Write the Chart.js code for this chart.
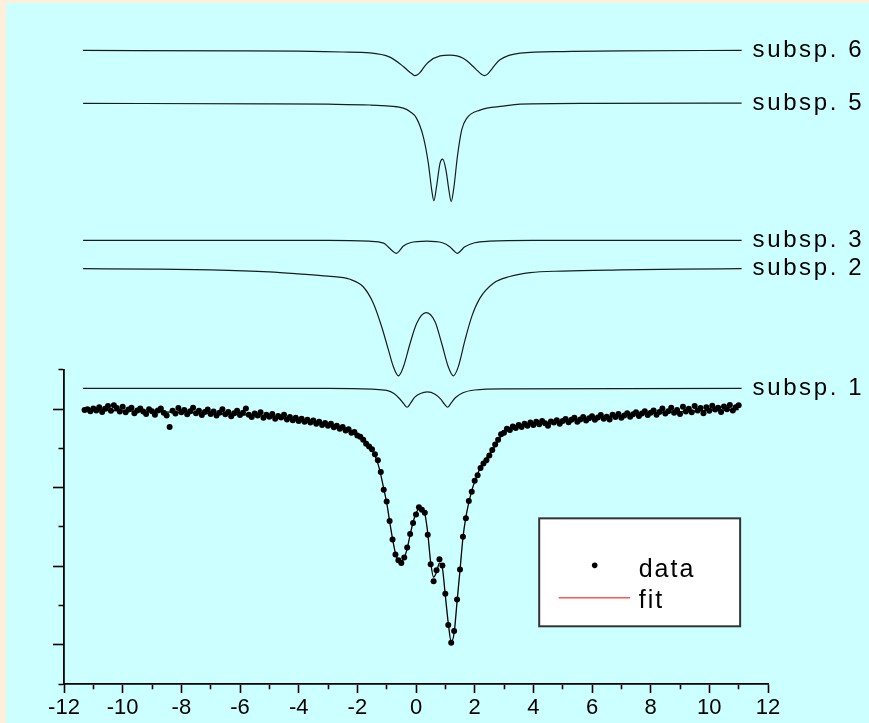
<!DOCTYPE html>
<html><head><meta charset="utf-8">
<script src="https://cdn.jsdelivr.net/npm/chart.js@4.4.1/dist/chart.umd.min.js"></script>
<style>html,body{margin:0;padding:0;background:#FDEFD9;overflow:hidden}canvas{display:block}</style>
</head><body>
<canvas id="c" width="869" height="723"></canvas>
<script>
// Measured spectrum (velocity mm/s, relative transmission %)
const dataVelocity = [
-11.3,-11.2,-11.1,-11.0,-10.9,-10.8,-10.7,-10.6,-10.5,-10.4,
-10.3,-10.2,-10.1,-10.0,-9.9,-9.8,-9.7,-9.6,-9.5,-9.4,
-9.3,-9.2,-9.1,-9.0,-8.9,-8.8,-8.7,-8.6,-8.5,-8.4,
-8.3,-8.2,-8.1,-8.0,-7.9,-7.8,-7.7,-7.6,-7.5,-7.4,
-7.3,-7.2,-7.1,-7.0,-6.9,-6.8,-6.7,-6.6,-6.5,-6.4,
-6.3,-6.2,-6.1,-6.0,-5.9,-5.8,-5.7,-5.6,-5.5,-5.4,
-5.3,-5.2,-5.1,-5.0,-4.9,-4.8,-4.7,-4.6,-4.5,-4.4,
-4.3,-4.2,-4.1,-4.0,-3.9,-3.8,-3.7,-3.6,-3.5,-3.4,
-3.3,-3.2,-3.1,-3.0,-2.9,-2.8,-2.7,-2.6,-2.5,-2.4,
-2.3,-2.2,-2.1,-2.0,-1.9,-1.8,-1.7,-1.6,-1.5,-1.4,
-1.3,-1.2,-1.1,-1.0,-0.9,-0.8,-0.7,-0.6,-0.5,-0.4,
-0.3,-0.2,-0.1,0.0,0.1,0.2,0.3,0.4,0.5,0.6,
0.7,0.8,0.9,1.0,1.1,1.2,1.3,1.4,1.5,1.6,
1.7,1.8,1.9,2.0,2.1,2.2,2.3,2.4,2.5,2.6,
2.7,2.8,2.9,3.0,3.1,3.2,3.3,3.4,3.5,3.6,
3.7,3.8,3.9,4.0,4.1,4.2,4.3,4.4,4.5,4.6,
4.7,4.8,4.9,5.0,5.1,5.2,5.3,5.4,5.5,5.6,
5.7,5.8,5.9,6.0,6.1,6.2,6.3,6.4,6.5,6.6,
6.7,6.8,6.9,7.0,7.1,7.2,7.3,7.4,7.5,7.6,
7.7,7.8,7.9,8.0,8.1,8.2,8.3,8.4,8.5,8.6,
8.7,8.8,8.9,9.0,9.1,9.2,9.3,9.4,9.5,9.6,
9.7,9.8,9.9,10.0,10.1,10.2,10.3,10.4,10.5,10.6,
10.7,10.8,10.9,11.0];
const dataTransmission = [
99.98,100.00,99.95,100.02,99.97,100.05,99.93,100.01,100.08,99.96,
100.10,100.03,99.94,100.06,99.92,99.99,100.04,99.90,99.97,100.02,
99.94,99.88,100.00,99.95,99.86,99.97,100.02,99.91,99.84,99.55,
99.96,99.89,100.03,99.92,99.98,99.87,99.95,100.04,99.90,99.96,
99.85,99.93,99.99,99.88,99.94,99.84,99.91,100.00,99.87,99.93,
99.82,99.90,99.96,99.85,99.91,100.02,99.86,99.80,99.89,99.84,
99.92,99.78,99.86,99.81,99.88,99.76,99.83,99.79,99.86,99.74,
99.80,99.72,99.78,99.70,99.76,99.68,99.73,99.66,99.71,99.63,
99.68,99.60,99.65,99.58,99.63,99.54,99.58,99.50,99.55,99.46,
99.49,99.40,99.42,99.33,99.30,99.22,99.12,99.05,98.98,98.85,
98.70,98.40,97.95,97.65,97.15,96.68,96.30,96.15,96.08,96.22,
96.48,96.82,97.10,97.32,97.50,97.44,97.36,96.80,96.05,95.62,
95.90,96.18,96.02,95.30,94.50,94.05,94.35,95.15,95.92,96.75,
97.22,97.66,97.90,98.18,98.32,98.50,98.62,98.70,98.82,98.96,
99.10,99.22,99.36,99.40,99.50,99.47,99.56,99.52,99.60,99.55,
99.63,99.58,99.66,99.60,99.68,99.62,99.70,99.64,99.58,99.69,
99.66,99.72,99.63,99.70,99.75,99.67,99.73,99.78,99.68,99.74,
99.80,99.71,99.77,99.82,99.73,99.79,99.85,99.76,99.81,99.74,
99.86,99.80,99.88,99.78,99.84,99.90,99.81,99.87,99.92,99.83,
99.89,99.95,99.85,99.91,99.97,99.86,99.93,100.02,99.89,99.95,
100.04,99.91,99.98,99.88,100.06,99.94,100.01,99.92,100.08,99.97,
100.03,99.90,100.05,99.96,100.09,99.99,100.04,99.93,100.07,100.00,
100.11,99.97,100.05,100.10];

// Fit curve
const fitVelocity = [-11.3,-10,-9,-8,-7,-6,-5,-4.5,-4,-3.5,-3,-2.5,-2.2,-2.0,-1.8,-1.6,-1.45,-1.3,-1.2,-1.1,
-1.0,-0.9,-0.8,-0.7,-0.6,-0.5,-0.4,-0.3,-0.2,-0.1,0.0,0.1,0.2,0.3,0.4,0.5,0.6,0.7,0.8,0.9,
1.0,1.1,1.2,1.3,1.4,1.5,1.6,1.7,1.8,1.9,2.0,2.2,2.4,2.6,2.8,3.0,3.3,3.6,4,5,6,7,8,9,10,11.0];
const fitTransmission = [99.98,99.96,99.94,99.92,99.89,99.86,99.81,99.77,99.73,99.68,99.62,99.53,99.45,99.38,99.27,99.08,98.9,98.62,98.33,97.98,
97.62,97.15,96.7,96.33,96.14,96.12,96.22,96.45,96.8,97.12,97.35,97.46,97.47,97.34,96.85,96.1,95.72,95.85,96.08,95.95,
95.25,94.55,94.08,94.3,95.1,95.9,96.72,97.25,97.62,97.92,98.15,98.52,98.76,98.95,99.2,99.42,99.53,99.58,99.62,99.70,99.77,99.84,99.90,99.94,99.97,99.99];

// Subspectra (drawn offset above the spectrum, same % units)
const subsp1Velocity = [-11.35,-3,-1.5,-1.0,-0.75,-0.55,-0.42,-0.30,-0.18,-0.05,0.15,0.39,0.65,0.85,0.97,1.08,1.2,1.35,1.6,2.0,3,11.1];
const subsp1Value = [100.53,100.53,100.51,100.48,100.40,100.26,100.14,100.05,100.16,100.30,100.40,100.44,100.38,100.25,100.13,100.05,100.16,100.30,100.42,100.49,100.52,100.53];
const subsp2Velocity = [-11.35,-9,-7,-5,-4,-3,-2.25,-1.8,-1.455,-1.17,-0.94,-0.77,-0.60,-0.43,-0.20,0.025,0.34,0.65,0.875,1.10,1.27,1.44,1.67,1.90,2.18,2.64,3.2,3.89,5,7,9,11.1];
const subsp2Value = [103.58,103.57,103.55,103.50,103.45,103.39,103.31,103.12,102.70,102.10,101.51,101.08,100.85,101.08,101.68,102.19,102.46,102.23,101.68,101.08,100.85,101.08,101.76,102.36,102.83,103.21,103.38,103.48,103.52,103.55,103.57,103.58];
const subsp3Velocity = [-11.35,-3,-1.6,-1.1,-0.9,-0.78,-0.68,-0.58,-0.44,-0.2,0.37,0.9,1.15,1.3,1.41,1.52,1.65,2.0,2.5,4,11.1];
const subsp3Value = [104.30,104.30,104.28,104.23,104.10,104.02,103.97,104.02,104.15,104.24,104.28,104.24,104.14,104.03,103.97,104.03,104.13,104.24,104.28,104.30,104.30];
const subsp5Velocity = [-11.35,-5,-3,-1.57,-0.89,-0.43,-0.2,0.02,0.25,0.42,0.535,0.61,0.70,0.82,0.91,1.02,1.12,1.20,1.295,1.41,1.56,1.73,2.18,2.98,3.55,6,11.1];
const subsp5Value = [107.79,107.78,107.77,107.75,107.72,107.67,107.58,107.41,106.94,106.27,105.59,105.31,105.67,106.27,106.37,106.10,105.59,105.29,105.67,106.43,107.12,107.41,107.62,107.72,107.77,107.79,107.80];
const subsp6Velocity = [-11.35,-6,-4,-2.5,-1.57,-0.89,-0.43,-0.28,-0.15,-0.05,0.05,0.14,0.28,0.42,0.82,1.16,1.61,1.95,2.1,2.22,2.33,2.43,2.55,2.7,2.86,3.55,5,7,11.1];
const subsp6Value = [109.14,109.13,109.12,109.10,109.08,108.97,108.73,108.63,108.55,108.50,108.52,108.58,108.72,108.84,109.00,109.02,108.94,108.73,108.62,108.54,108.50,108.53,108.63,108.78,108.90,109.07,109.11,109.13,109.14];
const subspLabels = ['subsp. 1','subsp. 2','subsp. 3','subsp. 5','subsp. 6'];

const xTickLabels = ['-12','-10','-8','-6','-4','-2','0','2','4','6','8','10','12'];
const legendLabels = ['data','fit'];

const FONT = '"Liberation Sans", Arial, Helvetica, sans-serif';
const pts = (vs, ts) => vs.map((v, i) => ({x: v, y: ts[i]}));
const subspSeries = [
  {label: subspLabels[0], v: subsp1Velocity, t: subsp1Value},
  {label: subspLabels[1], v: subsp2Velocity, t: subsp2Value},
  {label: subspLabels[2], v: subsp3Velocity, t: subsp3Value},
  {label: subspLabels[3], v: subsp5Velocity, t: subsp5Value},
  {label: subspLabels[4], v: subsp6Velocity, t: subsp6Value}
];

const bgPlugin = {
  id: 'bg',
  beforeDraw(chart) {
    const c = chart.ctx;
    c.save();
    c.fillStyle = '#FDEFD9';
    c.fillRect(0, 0, chart.width, chart.height);
    c.fillStyle = '#CCFFFF';
    c.fillRect(6, 3, chart.width - 6, chart.height - 3);
    c.restore();
  }
};

const subspLabelPlugin = {
  id: 'subspLabels',
  afterDatasetsDraw(chart) {
    const c = chart.ctx, xs = chart.scales.x, ys = chart.scales.yTop;
    c.save();
    c.font = '24px ' + FONT;
    c.fillStyle = '#000';
    try { c.letterSpacing = '2.6px'; } catch (e) {}
    c.textBaseline = 'alphabetic';
    c.textAlign = 'left';
    subspSeries.forEach(s => {
      const lv = s.v[s.v.length - 1], lt = s.t[s.t.length - 1];
      c.fillText(s.label, xs.getPixelForValue(lv) + 11, ys.getPixelForValue(lt) + 6.5);
    });
    c.restore();
  }
};

const legendPlugin = {
  id: 'legendBox',
  afterDraw(chart) {
    const c = chart.ctx, xs = chart.scales.x, ys = chart.scales.y;
    const L = xs.getPixelForValue(4.2), R = xs.getPixelForValue(11.05);
    const T = ys.getPixelForValue(97.22), B = ys.getPixelForValue(94.47);
    c.save();
    c.fillStyle = '#FFFFFF';
    c.fillRect(L, T, R - L, B - T);
    c.strokeStyle = '#333';
    c.lineWidth = 2;
    c.strokeRect(L, T, R - L, B - T);
    c.fillStyle = '#000';
    c.beginPath();
    c.arc(L + 55.5, T + 47, 2.8, 0, Math.PI * 2);
    c.fill();
    c.strokeStyle = '#FF0000';
    c.lineWidth = 1;
    c.beginPath();
    c.moveTo(L + 19.5, T + 79.5);
    c.lineTo(L + 91, T + 79.5);
    c.stroke();
    c.font = '25px ' + FONT;
    try { c.letterSpacing = '2px'; } catch (e) {}
    c.fillStyle = '#000';
    c.textBaseline = 'alphabetic';
    c.fillText(legendLabels[0], L + 99.5, T + 58.5);
    c.fillText(legendLabels[1], L + 99.5, T + 90);
    c.restore();
  }
};

new Chart(document.getElementById('c'), {
  type: 'line',
  data: {
    datasets: [
      {label: legendLabels[0], data: pts(dataVelocity, dataTransmission), yAxisID: 'y', showLine: false,
       pointRadius: 3, pointBackgroundColor: '#000', pointBorderColor: '#000', pointBorderWidth: 0, pointHoverRadius: 0, clip: false},
      {label: legendLabels[1], data: pts(fitVelocity, fitTransmission), yAxisID: 'y', borderColor: '#000',
       borderWidth: 1.3, pointRadius: 0, cubicInterpolationMode: 'monotone', clip: false},
      ...subspSeries.map(s => ({label: s.label, data: pts(s.v, s.t), yAxisID: 'yTop', borderColor: '#1c1c1c',
        borderWidth: 1.2, pointRadius: 0, cubicInterpolationMode: 'monotone', clip: false}))
    ]
  },
  options: {
    responsive: false,
    animation: false,
    devicePixelRatio: 1,
    layout: {padding: {left: 53, right: 101, top: 12.75, bottom: 0}},
    plugins: {legend: {display: false}, tooltip: {enabled: false}},
    events: [],
    scales: {
      x: {
        type: 'linear', position: 'bottom', min: -12, max: 12,
        ticks: {
          stepSize: 1, autoSkip: false, maxRotation: 0, padding: 4, color: '#000',
          font: {family: FONT, size: 22, lineHeight: 1},
          callback: v => { const s = String(Math.round(v)); return (Math.abs(Math.round(v)) % 2 === 0 && xTickLabels.includes(s)) ? s : ''; }
        },
        grid: {
          drawOnChartArea: false, tickLength: 9, tickColor: '#000', tickWidth: 1.6,
          tickBorderDash: ctx => (ctx.tick && Math.abs(Math.round(ctx.tick.value)) % 2 === 1) ? [4.5, 30] : []
        },
        border: {display: true, color: '#000', width: 1.8}
      },
      yTop: {
        type: 'linear', position: 'left', stack: 'left', stackWeight: 9.1, weight: 2,
        min: 101, max: 110.1,
        ticks: {display: false},
        grid: {display: false},
        border: {display: false}
      },
      y: {
        type: 'linear', position: 'left', stack: 'left', stackWeight: 8, weight: 1,
        min: 93, max: 101,
        ticks: {display: false, stepSize: 1},
        grid: {
          drawOnChartArea: false, tickLength: 11, tickColor: '#000', tickWidth: 1.6,
          tickBorderDash: ctx => (ctx.tick && Math.abs(Math.round(ctx.tick.value)) % 2 === 1) ? [0, 5.5, 20, 0] : []
        },
        border: {display: true, color: '#000', width: 1.8}
      }
    }
  },
  plugins: [bgPlugin, subspLabelPlugin, legendPlugin]
});
</script>
</body></html>
